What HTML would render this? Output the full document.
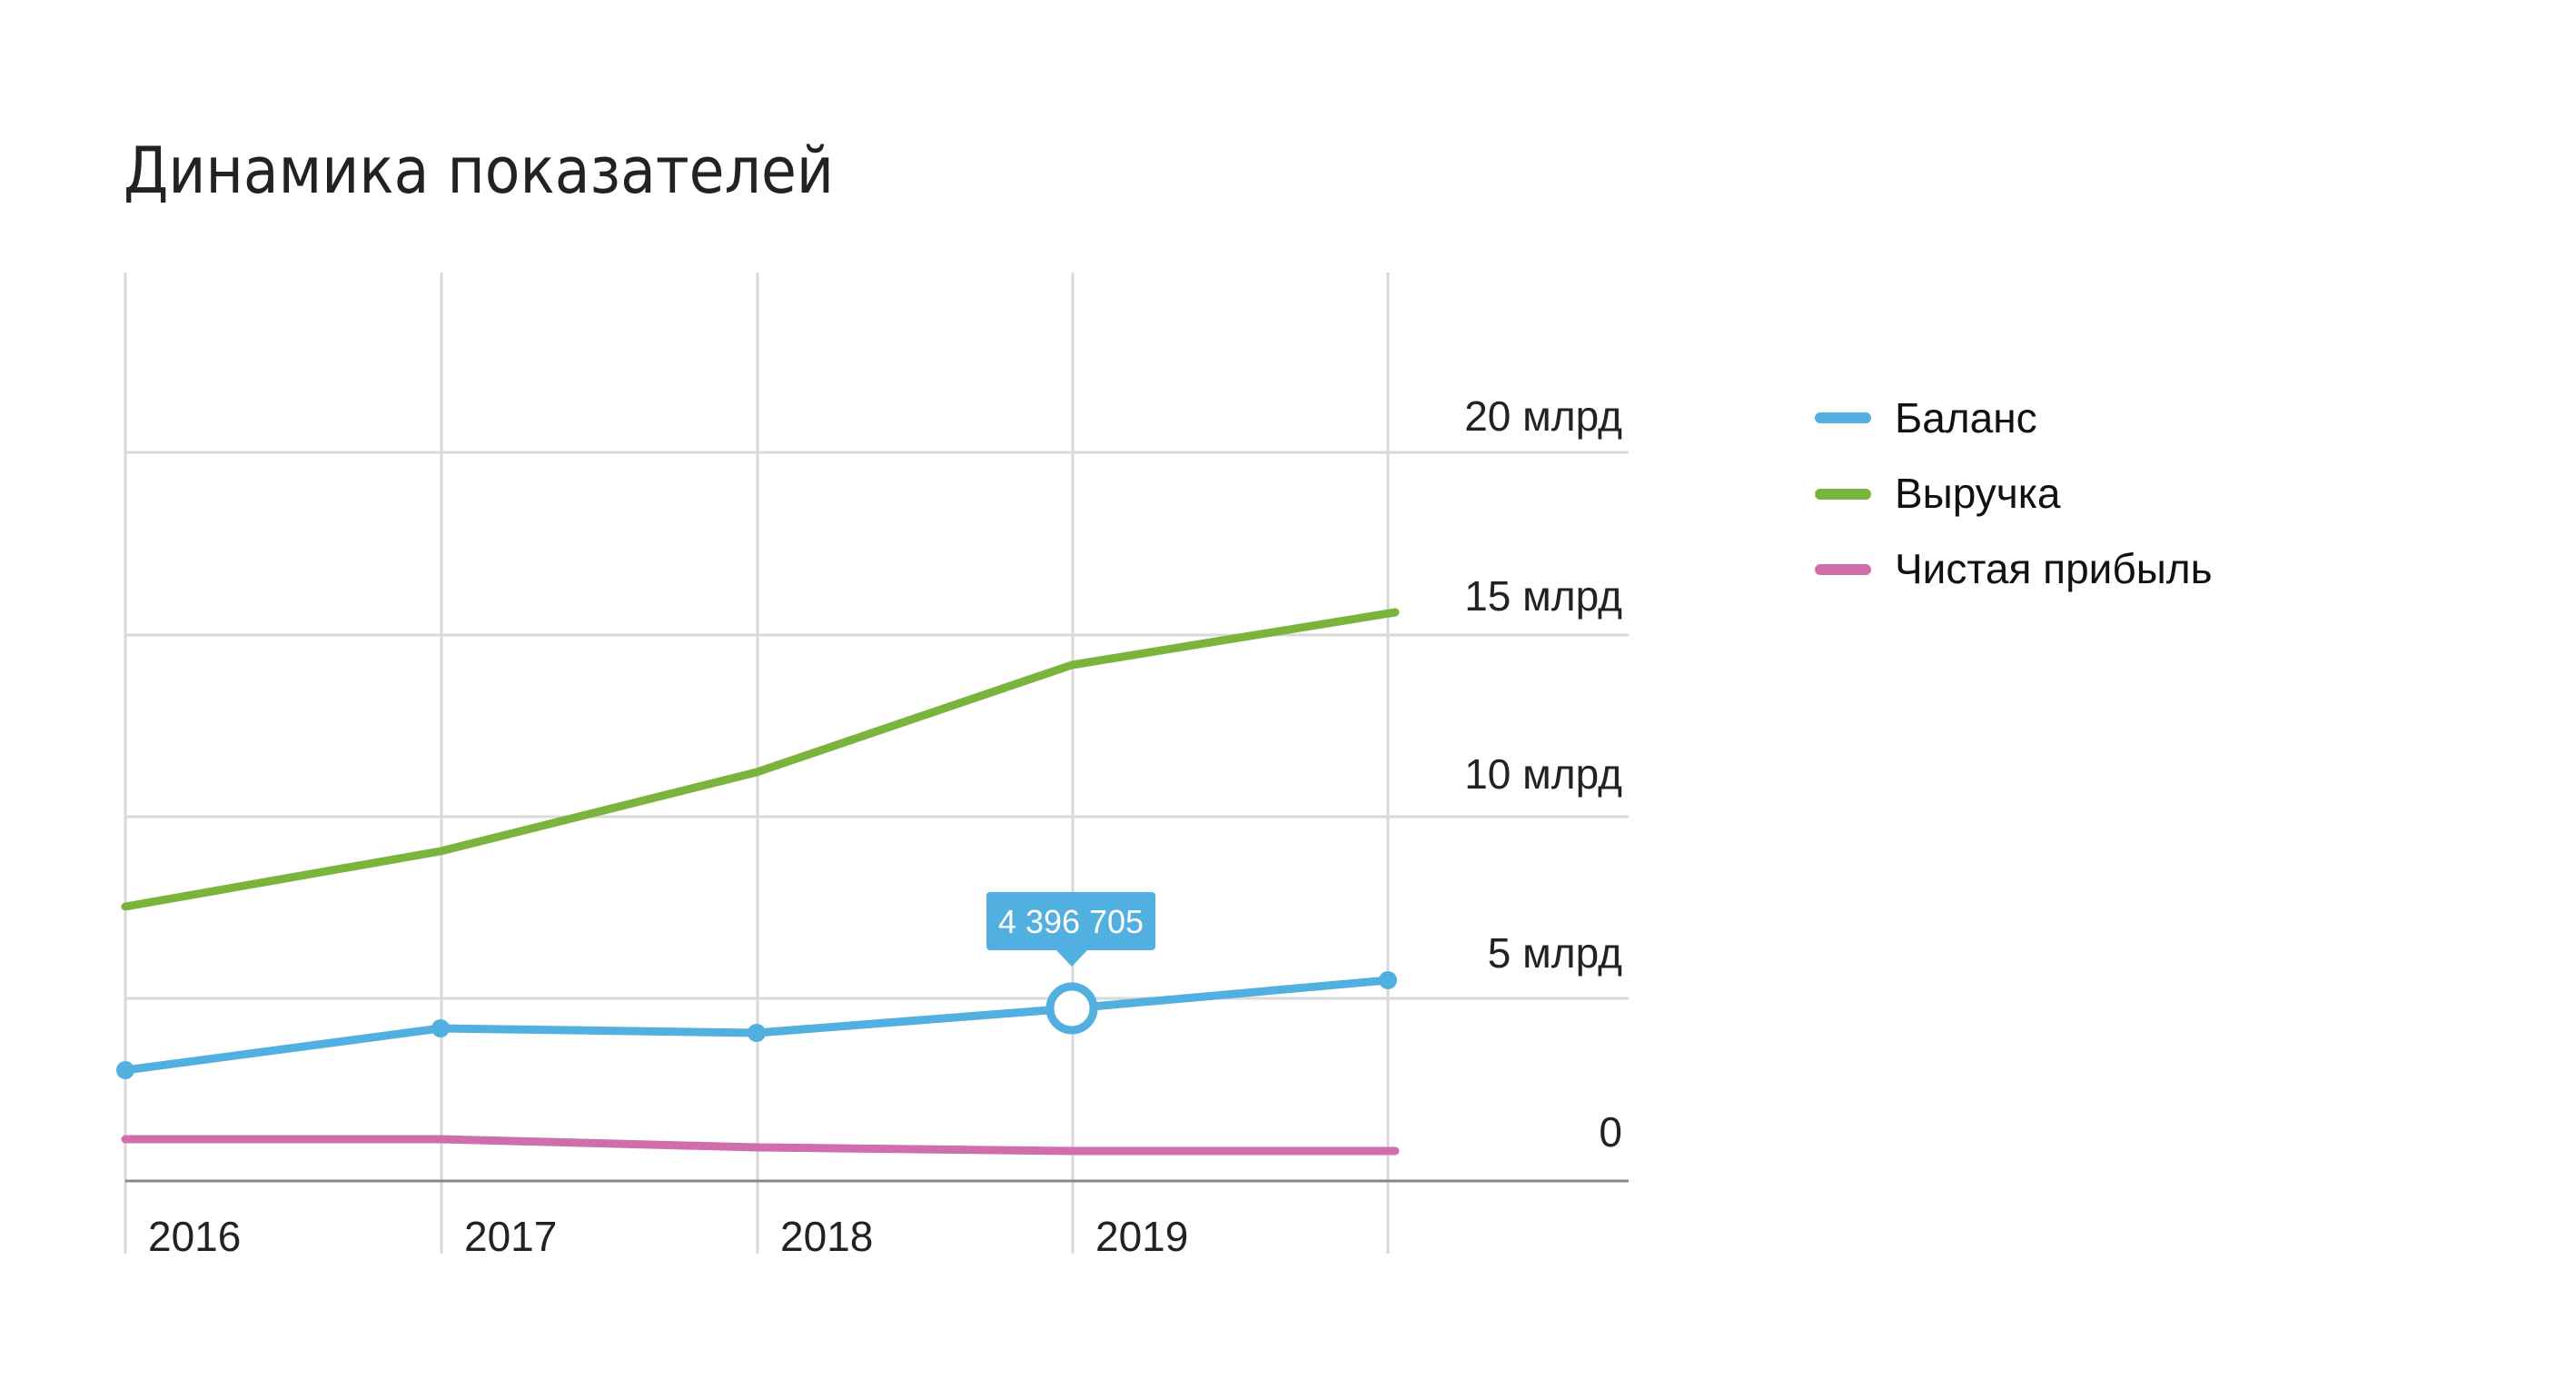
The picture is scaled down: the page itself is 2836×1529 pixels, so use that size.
<!DOCTYPE html>
<html><head><meta charset="utf-8"><style>html,body{margin:0;padding:0;background:#fff}svg{display:block}</style></head>
<body>
<svg width="2836" height="1529" viewBox="0 0 2836 1529" xmlns="http://www.w3.org/2000/svg" font-family="Liberation Sans, DejaVu Sans, sans-serif">
<text x="136" y="212" font-size="70" fill="#222" font-family="DejaVu Sans, Liberation Sans, sans-serif" textLength="782" lengthAdjust="spacingAndGlyphs">Динамика показателей</text>
<g stroke="#d9d9d9" stroke-width="3">
<line x1="138" y1="300" x2="138" y2="1380"/><line x1="486" y1="300" x2="486" y2="1380"/><line x1="834" y1="300" x2="834" y2="1380"/><line x1="1181" y1="300" x2="1181" y2="1380"/><line x1="1528" y1="300" x2="1528" y2="1380"/>
<line x1="138" y1="498" x2="1793" y2="498"/><line x1="138" y1="699" x2="1793" y2="699"/><line x1="138" y1="899" x2="1793" y2="899"/><line x1="138" y1="1099" x2="1793" y2="1099"/>
</g>
<line x1="138" y1="1300" x2="1793" y2="1300" stroke="#888" stroke-width="3"/>
<g font-size="46" fill="#222" text-anchor="end">
<text x="1786" y="474">20 млрд</text><text x="1786" y="672">15 млрд</text><text x="1786" y="868">10 млрд</text><text x="1786" y="1065">5 млрд</text><text x="1786" y="1262">0</text>
</g>
<g font-size="46" fill="#222">
<text x="163" y="1377">2016</text><text x="511" y="1377">2017</text><text x="859" y="1377">2018</text><text x="1206" y="1377">2019</text>
</g>
<polyline points="138,998 485,937 833,850 1180,732 1536,674" fill="none" stroke="#7ab43c" stroke-width="9" stroke-linecap="round" stroke-linejoin="round"/>
<polyline points="138,1254 485,1254 833,1263 1180,1267 1536,1267" fill="none" stroke="#d06ead" stroke-width="9" stroke-linecap="round" stroke-linejoin="round"/>
<polyline points="138,1178 485,1132 833,1137 1180,1110 1528,1079" fill="none" stroke="#52b0e0" stroke-width="9" stroke-linecap="round" stroke-linejoin="round"/>
<g fill="#52b0e0"><circle cx="138" cy="1178" r="10"/><circle cx="485" cy="1132" r="10"/><circle cx="833" cy="1137" r="10"/><circle cx="1528" cy="1079" r="10"/></g>
<circle cx="1180" cy="1110" r="24" fill="#fff" stroke="#52b0e0" stroke-width="9"/>
<rect x="1086" y="982" width="186" height="64" rx="4" fill="#52b0e0"/>
<polygon points="1162,1045 1198,1045 1180,1064" fill="#52b0e0"/>
<text x="1179" y="1027" font-size="36" fill="#fff" text-anchor="middle">4 396 705</text>
<g stroke-width="12" stroke-linecap="round">
<line x1="2004" y1="460" x2="2054" y2="460" stroke="#52b0e0"/><line x1="2004" y1="544" x2="2054" y2="544" stroke="#7ab43c"/><line x1="2004" y1="627" x2="2054" y2="627" stroke="#d06ead"/>
</g>
<g font-size="46" fill="#111">
<text x="2086" y="476">Баланс</text><text x="2086" y="559">Выручка</text><text x="2086" y="642">Чистая прибыль</text>
</g>
</svg>
</body></html>
